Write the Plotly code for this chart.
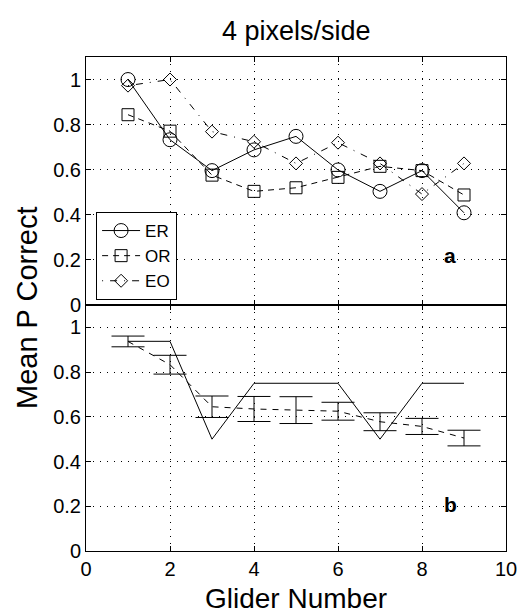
import plotly.graph_objects as go

# ---- data ----
glider = [1, 2, 3, 4, 5, 6, 7, 8, 9]
er_vals = [1.00, 0.733, 0.596, 0.688, 0.748, 0.599, 0.504, 0.596, 0.409]
or_vals = [0.844, 0.771, 0.576, 0.504, 0.520, 0.566, 0.615, 0.596, 0.488]
eo_vals = [0.973, 1.00, 0.769, 0.724, 0.628, 0.720, 0.628, 0.492, 0.628]

theory_vals = [0.9375, 0.9375, 0.5, 0.75, 0.75, 0.75, 0.5, 0.75, 0.75]
mean_vals = [0.937, 0.833, 0.645, 0.635, 0.630, 0.625, 0.578, 0.557, 0.505]
err_vals = [0.024, 0.042, 0.048, 0.056, 0.060, 0.040, 0.040, 0.036, 0.035]

xticks = [0, 2, 4, 6, 8, 10]
yticks = [0, 0.2, 0.4, 0.6, 0.8, 1]
ytick_text = ["0", "0.2", "0.4", "0.6", "0.8", "1"]

title_text = "4 pixels/side"
xlabel = "Glider Number"
ylabel = "Mean P Correct"

FONT = "Liberation Sans, Arial, Helvetica, sans-serif"

fig = go.Figure()

fig.add_trace(go.Scatter(
    x=glider, y=er_vals, name="ER", mode="lines+markers",
    line=dict(color="black", width=1),
    marker=dict(symbol="circle-open", size=14, color="black", line=dict(width=1)),
    xaxis="x", yaxis="y"))
fig.add_trace(go.Scatter(
    x=glider, y=or_vals, name="OR", mode="lines+markers",
    line=dict(color="black", width=1, dash="6px,5px"),
    marker=dict(symbol="square-open", size=12, color="black", line=dict(width=1)),
    xaxis="x", yaxis="y"))
fig.add_trace(go.Scatter(
    x=glider, y=eo_vals, name="EO", mode="lines+markers",
    line=dict(color="black", width=1, dash="1px,7px,7px,7px"),
    marker=dict(symbol="diamond-open", size=10, color="black", line=dict(width=1)),
    xaxis="x", yaxis="y"))

fig.add_trace(go.Scatter(
    x=glider, y=theory_vals, mode="lines", showlegend=False,
    line=dict(color="black", width=1),
    xaxis="x2", yaxis="y2"))
fig.add_trace(go.Scatter(
    x=glider, y=mean_vals, mode="lines", showlegend=False,
    line=dict(color="black", width=1, dash="6px,6px"),
    error_y=dict(type="data", array=err_vals, visible=True,
                 color="black", thickness=1, width=16.5),
    xaxis="x2", yaxis="y2"))

axis_common = dict(
    range=[0, 10], showline=True, linecolor="black", linewidth=1, mirror="ticks",
    ticks="inside", ticklen=5, tickcolor="black", automargin=False,
    showgrid=True, gridcolor="black", gridwidth=1, griddash="1px,6px",
    zeroline=False, tickvals=xticks,
    tickfont=dict(family=FONT, size=20, color="black"),
)
yaxis_common = dict(
    range=[0, 1.1], showline=True, linecolor="black", linewidth=1, mirror="ticks",
    ticks="inside", ticklen=5, tickcolor="black", automargin=False,
    showgrid=True, gridcolor="black", gridwidth=1, griddash="1px,6px",
    zeroline=False, tickvals=yticks, ticktext=ytick_text,
    tickfont=dict(family=FONT, size=20, color="black"),
)

split = 0.498
fig.update_layout(
    width=520, height=615,
    margin=dict(l=86, r=14, t=57, b=64),
    plot_bgcolor="white", paper_bgcolor="white",
    font=dict(family=FONT, color="black"),
    xaxis=dict(**axis_common, anchor="y", showticklabels=False),
    yaxis=dict(**yaxis_common, domain=[split, 1], anchor="x"),
    xaxis2=dict(**axis_common, anchor="y2"),
    yaxis2=dict(**yaxis_common, domain=[0, split], anchor="x2"),
    showlegend=True,
    legend=dict(x=0.024, y=(551 - 256) / 494, xanchor="left", yanchor="middle",
                bgcolor="white", bordercolor="black", borderwidth=1,
                font=dict(family=FONT, size=17, color="black"),
                itemwidth=38,
                tracegroupgap=0),
    annotations=[
        dict(text=title_text, xref="paper", yref="paper", x=0.5,
             y=1 + (57 - 31) / 494, yanchor="middle", showarrow=False,
             font=dict(family=FONT, size=27, color="black")),
        dict(text=xlabel, xref="paper", yref="paper", x=0.5,
             y=-(598 - 551) / 494, yanchor="middle", showarrow=False,
             font=dict(family=FONT, size=28, color="black")),
        dict(text=ylabel, xref="paper", yref="paper", x=-(86 - 27) / 420,
             y=(551 - 308) / 494, xanchor="center", yanchor="middle",
             textangle=-90, showarrow=False,
             font=dict(family=FONT, size=29, color="black")),
        dict(text="<b>a</b>", xref="x", yref="y", x=8.67, y=0.22,
             showarrow=False, font=dict(family=FONT, size=21, color="black")),
        dict(text="<b>b</b>", xref="x2", yref="y2", x=8.68, y=0.21,
             showarrow=False, font=dict(family=FONT, size=21, color="black")),
    ],
)

fig.write_html("out.html")
